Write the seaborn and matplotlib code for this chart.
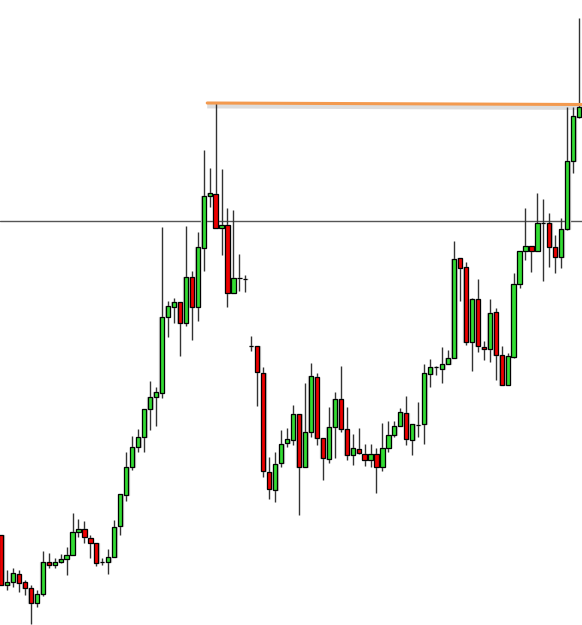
import numpy as np
import pandas as pd
import matplotlib
matplotlib.use("Agg")
import matplotlib.pyplot as plt
import seaborn as sns

# OHLC (arbitrary price units, no axis shown)
opens = [90, 40, 43, 51, 43, 37, 22, 31, 63, 60, 63, 66, 70, 93, 96, 87, 82, 63, 63, 68,
         99, 130, 158, 178, 188, 216, 228, 232, 308, 318, 323, 302, 348, 318, 377, 429, 431, 397, 400, 332,
         347, 346, 279, 279, 252, 153, 135, 162, 182, 185, 211, 158, 193, 248, 187, 166, 198, 226, 196, 170,
         176, 171, 165, 171, 158, 177, 190, 199, 212, 185, 200, 201, 251, 258, 256, 261, 267, 367, 358, 283,
         326, 278, 276, 313, 270, 240, 268, 341, 374, 379, 374, 402, 402, 378, 368, 396, 464, 508]
highs = [90, 55, 57, 55, 45, 40, 35, 74, 72, 67, 71, 78, 112, 106, 104, 90, 82, 67, 76, 105,
         131, 173, 189, 196, 216, 244, 238, 398, 324, 327, 323, 399, 354, 393, 475, 457, 522, 456, 417, 415,
         371, 350, 289, 279, 258, 168, 173, 195, 197, 220, 211, 242, 262, 252, 187, 218, 233, 259, 218, 191,
         197, 181, 181, 177, 202, 204, 204, 217, 229, 201, 223, 261, 266, 259, 278, 275, 384, 367, 363, 327,
         346, 284, 326, 317, 279, 272, 352, 374, 417, 379, 432, 426, 412, 390, 407, 518, 518, 607]
lows = [40, 35, 38, 33, 30, 1, 18, 29, 57, 57, 62, 50, 70, 88, 82, 67, 59, 60, 51, 68,
        90, 124, 155, 173, 173, 195, 199, 227, 288, 302, 269, 299, 285, 304, 354, 418, 397, 370, 318, 332,
        334, 333, 274, 219, 148, 126, 123, 158, 178, 180, 110, 158, 188, 180, 145, 162, 167, 193, 165, 160,
        171, 159, 158, 132, 154, 173, 188, 199, 180, 170, 188, 181, 238, 250, 242, 261, 267, 324, 280, 254,
        273, 265, 263, 245, 240, 240, 267, 337, 365, 353, 374, 344, 358, 352, 357, 395, 452, 507]
closes = [40, 43, 52, 42, 37, 22, 31, 63, 60, 63, 66, 70, 93, 96, 88, 82, 62, 63, 68, 98,
          131, 158, 178, 188, 216, 228, 233, 308, 319, 323, 302, 348, 318, 378, 429, 432, 397, 400, 332, 347,
          347, 346, 279, 253, 154, 136, 161, 181, 186, 211, 158, 193, 249, 187, 167, 198, 226, 196, 170, 177,
          172, 165, 171, 158, 177, 190, 199, 213, 186, 201, 200, 252, 258, 258, 261, 267, 366, 357, 283, 326,
          279, 276, 312, 270, 240, 269, 341, 374, 379, 374, 402, 402, 378, 368, 396, 464, 509, 518]

support_level = 404
trend_idx = [34.6, 97.5]
trend_price = [522, 520.5]

df = pd.DataFrame({"open": opens, "high": highs, "low": lows, "close": closes})
df["i"] = np.arange(len(df))
df["up"] = df["close"] >= df["open"]

sns.set_theme(style="white")
fig = plt.figure(figsize=(5.82, 6.25), dpi=100)
ax = fig.add_axes([0, 0, 1, 1])

GREEN, RED = "#33dd33", "#ee0000"
W = 0.7

# horizontal level
ax.axhline(support_level, color="#555555", lw=1.0, zorder=1)

# wicks
ax.vlines(df["i"], df["low"], df["high"], color="#333333", lw=1.0, zorder=2)

# faint grey halo then bodies
bot = df[["open", "close"]].min(axis=1)
hgt = (df["close"] - df["open"]).abs()
ax.bar(df["i"], hgt, bottom=bot, width=W + 0.15, color="none",
       edgecolor="#c4c4c4", lw=0.9, zorder=3)
ax.bar(df["i"], hgt, bottom=bot, width=W,
       color=np.where(df["up"], GREEN, RED), edgecolor="black", lw=0.9, zorder=4)

# top line with soft grey shadow
tl = pd.DataFrame({"i": trend_idx, "p": trend_price})
ax.plot(tl["i"], tl["p"] - 3, color="#aaaaaa", lw=3.5, alpha=0.4, zorder=1,
        solid_capstyle="butt")
sns.lineplot(data=tl, x="i", y="p", color="#f39a4f", lw=2.2, ax=ax, zorder=5)

ax.set_xlim(-0.17, 97.48)
ax.set_ylim(0, 625)
ax.axis("off")
ax.set_facecolor("white")

plt.savefig("out.png", dpi=100, facecolor="white")
plt.close(fig)
